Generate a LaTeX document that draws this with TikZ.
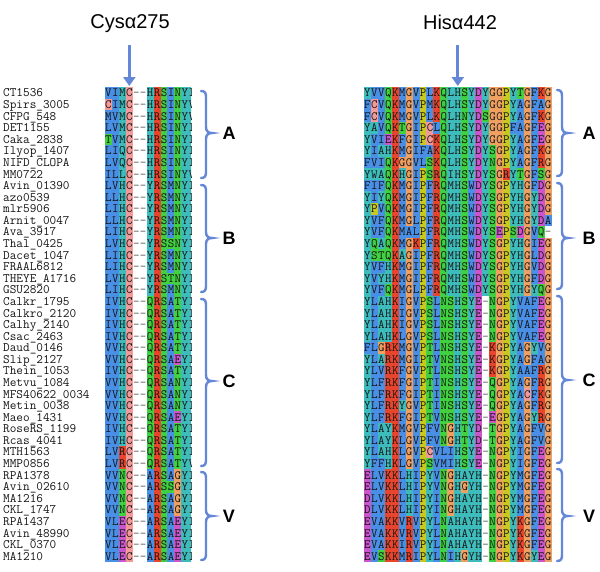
\documentclass[tikz,border=0pt]{standalone}
\usepackage{fontspec}
\newfontfamily\labfont{Liberation Sans}
\usetikzlibrary{arrows.meta}
\definecolor{cB}{HTML}{4A8FE6}
\definecolor{cT}{HTML}{3EBBBB}
\definecolor{cR}{HTML}{E8452C}
\definecolor{cG}{HTML}{40D040}
\definecolor{cM}{HTML}{CC55CC}
\definecolor{cO}{HTML}{F0A060}
\definecolor{cY}{HTML}{C8C820}
\definecolor{cP}{HTML}{F29A9A}
\definecolor{brc}{HTML}{6487D7}
\definecolor{txt}{HTML}{151515}
\definecolor{gapc}{HTML}{555555}
\tikzset{
  seqch/.style={font=\ttfamily\fontsize{12.6}{13}\selectfont, inner sep=0pt, anchor=base, text=txt},
  seqname/.style={font=\ttfamily\fontsize{12.9}{13}\selectfont, inner sep=0pt, anchor=base west, text=txt},
  grplab/.style={font=\labfont\bfseries\fontsize{18}{18}\selectfont, inner sep=0pt, text=black},
  title/.style={font=\labfont\fontsize{20}{20}\selectfont, inner sep=0pt, text=black},
  brcline/.style={draw=brc, line width=2.4pt, line cap=round},
  arr/.style={draw=brc, line width=3.2pt, -{Triangle[width=12pt,length=9pt]}}
}
\makeatletter
\def\defres#1#2{\expandafter\def\csname cl@#1\endcsname{#2}\expandafter\def\csname tx@#1\endcsname{#1}}
\def\deflow#1#2#3{\expandafter\def\csname cl@#1\endcsname{#3}\expandafter\def\csname tx@#1\endcsname{#2}}
\defres{A}{cB}\defres{C}{cP}\defres{D}{cM}\defres{E}{cM}
\defres{F}{cB}\defres{I}{cB}\defres{L}{cB}\defres{M}{cB}\defres{V}{cB}\defres{W}{cB}
\defres{G}{cO}\defres{H}{cT}\defres{Y}{cT}\defres{K}{cR}\defres{R}{cR}
\defres{N}{cG}\defres{Q}{cG}\defres{S}{cG}\defres{T}{cG}\defres{P}{cY}
\deflow{a}{A}{cT}\deflow{i}{I}{cT}\deflow{l}{L}{cT}\deflow{m}{M}{cT}
\deflow{q}{Q}{cT}\deflow{v}{V}{cT}\deflow{w}{W}{cT}
\newcount\sr@n
\def\sr@dash{-}
\newcommand\seqrow[4]{%
  \global\sr@n=0
  \pgfmathsetmacro\sr@y{87.3+(#3-0.5)*11.58}%
  \@tfor\sr@c:=#4\do{%
    \global\advance\sr@n by 1
    \pgfmathsetmacro\sr@x{#2+(\the\sr@n-0.5)*6.95}%
    \edef\sr@name{#1r#3c\the\sr@n}%
    \ifx\sr@c\sr@dash
      \node[seqch, text=gapc] (\sr@name) at (\sr@x,\sr@y+3.9) {-};%
    \else
      \fill[\csname cl@\sr@c\endcsname] (\sr@x-3.55,\sr@y-5.85) rectangle (\sr@x+3.55,\sr@y+5.85);%
      \node[seqch] (\sr@name) at (\sr@x,\sr@y+3.9) {\csname tx@\sr@c\endcsname};%
    \fi
  }}
\newcommand\seqname[2]{%
  \pgfmathsetmacro\sr@y{87.3+(#1-0.5)*11.58}%
  \node[seqname] (nm#1) at (3,\sr@y+3.9) {#2};}
\newcommand\brc[4]{% x, y1, ym, y2
  \draw[brcline] (#1-5,#2) .. controls (#1-1,#2) and (#1,#2+2) .. (#1,#2+6) -- (#1,#3-6)
    .. controls (#1,#3-2) and (#1+2,#3) .. (#1+6,#3)
    .. controls (#1+2,#3) and (#1,#3+2) .. (#1,#3+6) -- (#1,#4-6)
    .. controls (#1,#4-2) and (#1-1,#4) .. (#1-5,#4);}
\makeatother
\begin{document}
\begin{tikzpicture}[x=1pt,y=-1pt]
\useasboundingbox (0,0) rectangle (600,571);
\fill[white] (0,0) rectangle (600,571);
% titles and arrows
\node[title] (tcys) at (130,24) {Cysα275};
\node[title] (this) at (460,22) {Hisα442};
\coordinate (cysA) at (129.3,45);
\coordinate (cysB) at (129.3,86);
\coordinate (hisA) at (457.8,45);
\coordinate (hisB) at (457.8,86);
\draw[arr] (cysA) -- (cysB);
\draw[arr] (hisA) -- (hisB);
% names
\seqname{1}{CT1536}
\seqname{2}{Spirs\_3005}
\seqname{3}{CFPG\_548}
\seqname{4}{DET1155}
\seqname{5}{Caka\_2838}
\seqname{6}{Ilyop\_1407}
\seqname{7}{NIFD\_CLOPA}
\seqname{8}{MM0722}
\seqname{9}{Avin\_01390}
\seqname{10}{azo0539}
\seqname{11}{mlr5906}
\seqname{12}{Arnit\_0047}
\seqname{13}{Ava\_3917}
\seqname{14}{Thal\_0425}
\seqname{15}{Dacet\_1047}
\seqname{16}{FRAAL6812}
\seqname{17}{THEYE\_A1716}
\seqname{18}{GSU2820}
\seqname{19}{Calkr\_1795}
\seqname{20}{Calkro\_2120}
\seqname{21}{Calhy\_2140}
\seqname{22}{Csac\_2463}
\seqname{23}{Daud\_0146}
\seqname{24}{Slip\_2127}
\seqname{25}{Thein\_1053}
\seqname{26}{Metvu\_1084}
\seqname{27}{MFS40622\_0034}
\seqname{28}{Metin\_0038}
\seqname{29}{Maeo\_1431}
\seqname{30}{RoseRS\_1199}
\seqname{31}{Rcas\_4041}
\seqname{32}{MTH1563}
\seqname{33}{MMP0856}
\seqname{34}{RPA1378}
\seqname{35}{Avin\_02610}
\seqname{36}{MA1216}
\seqname{37}{CKL\_1747}
\seqname{38}{RPA1437}
\seqname{39}{Avin\_48990}
\seqname{40}{CKL\_0370}
\seqname{41}{MA1210}
% left block
\begin{scope}
\clip (104,80) rectangle (191,570);
\seqrow{L}{105}{1}{VImC--HRSINYi}
\seqrow{L}{105}{2}{CImC--HRSINYv}
\seqrow{L}{105}{3}{MVmC--HRSINYv}
\seqrow{L}{105}{4}{LVmC--HRSINYi}
\seqrow{L}{105}{5}{TVmC--HRSINYi}
\seqrow{L}{105}{6}{LIqC--HRSINYi}
\seqrow{L}{105}{7}{LVqC--HRSINYi}
\seqrow{L}{105}{8}{ILlC--HRSINYv}
\seqrow{L}{105}{9}{LVHC--YRSMNYi}
\seqrow{L}{105}{10}{LLHC--YRSMNYi}
\seqrow{L}{105}{11}{LIHC--YRSMNYi}
\seqrow{L}{105}{12}{LLHC--YRSMNYi}
\seqrow{L}{105}{13}{LIHC--YRSMNYi}
\seqrow{L}{105}{14}{LVHC--YRSSNYi}
\seqrow{L}{105}{15}{LIHC--YRSMNYi}
\seqrow{L}{105}{16}{LIHC--YRSMNYi}
\seqrow{L}{105}{17}{LVHC--YRSTNYi}
\seqrow{L}{105}{18}{LIHC--YRSMNYi}
\seqrow{L}{105}{19}{IVHC--QRSATYi}
\seqrow{L}{105}{20}{IVHC--QRSATYi}
\seqrow{L}{105}{21}{IVHC--QRSATYi}
\seqrow{L}{105}{22}{IVHC--QRSATYi}
\seqrow{L}{105}{23}{VVHC--QRSATYi}
\seqrow{L}{105}{24}{VVHC--QRSAEYi}
\seqrow{L}{105}{25}{IVHC--QRSATYi}
\seqrow{L}{105}{26}{VVHC--QRSANYi}
\seqrow{L}{105}{27}{VVHC--QRSANYi}
\seqrow{L}{105}{28}{VVHC--QRSANYi}
\seqrow{L}{105}{29}{VVHC--QRSAEYi}
\seqrow{L}{105}{30}{IVHC--QRSATYi}
\seqrow{L}{105}{31}{IVHC--QRSATYi}
\seqrow{L}{105}{32}{LVRC--QRSATYi}
\seqrow{L}{105}{33}{LVRC--QRSATYv}
\seqrow{L}{105}{34}{VVNC--ARSAGYi}
\seqrow{L}{105}{35}{VVNC--ARSSGYi}
\seqrow{L}{105}{36}{VVNC--ARSAGYi}
\seqrow{L}{105}{37}{VVNC--ARSAGYi}
\seqrow{L}{105}{38}{VLEC--ARSAEYi}
\seqrow{L}{105}{39}{VLEC--ARSAEYi}
\seqrow{L}{105}{40}{VLEC--ARSAEYi}
\seqrow{L}{105}{41}{VLEC--ARSAEYi}
\end{scope}
% right block
\seqrow{R}{364}{1}{YVVQKMGVPLKQlHSYDYGGPYTGFKG}
\seqrow{R}{364}{2}{FCVQKMGVPMKQlHSYDYGGPYAGFAG}
\seqrow{R}{364}{3}{FCVQKMGVPLKQlHNYDSGGPYAGFKG}
\seqrow{R}{364}{4}{YaVQKTGIPCLQlHSYDYGGPFAGFEG}
\seqrow{R}{364}{5}{YVIEKFGIPCKQlHSYDYGGPYAGFEG}
\seqrow{R}{364}{6}{YIaHKMGIFAKQlHSYDYSGPYAGFKG}
\seqrow{R}{364}{7}{FVIQKGGVLSKQlHSYDYNGPYAGFRG}
\seqrow{R}{364}{8}{YwaQKHGIPSRQiHSYDYSGRYTGFSG}
\seqrow{R}{364}{9}{FIFQKMGIPFRQmHSWDYSGPYHGFDG}
\seqrow{R}{364}{10}{YIYQKMGIPFRQmHSWDYSGPYHGYDG}
\seqrow{R}{364}{11}{YPVQKMGIPFRQmHSWDYSGPYHGYDG}
\seqrow{R}{364}{12}{YVFQKMGLPFRQmHSWDYSGPYHGYDA}
\seqrow{R}{364}{13}{YVFQKMALPFRQmHSWDYSEPSDGVQ-}
\seqrow{R}{364}{14}{YQaQKMGKPFRQmHSWDYSGPYHGIEG}
\seqrow{R}{364}{15}{YSTQKaGIPFRQmHSWDYSGPYHGLDG}
\seqrow{R}{364}{16}{YVFHKMGIPFRQmHSWDYSGPYHGVDG}
\seqrow{R}{364}{17}{YVYHKMGIPFRQmHSWDYSGPYHGFDG}
\seqrow{R}{364}{18}{YVFQKMGLPFRQmHSWDYSGPYHGYQG}
\seqrow{R}{364}{19}{YLaHKIGVPSLNSHSYE-NGPYVAFEG}
\seqrow{R}{364}{20}{YLaHKIGVPSLNSHSYE-NGPYVAFEG}
\seqrow{R}{364}{21}{YLaHKIGVPSLNSHSYE-NGPYVAFEG}
\seqrow{R}{364}{22}{YLaHKLGVPSLNSHSYE-NGPYVAFEG}
\seqrow{R}{364}{23}{FLGRKMGVPTLNSHSYE-KGPYAGYVG}
\seqrow{R}{364}{24}{YLaRKMGIPTVNSHSYE-KGPYAGFAG}
\seqrow{R}{364}{25}{YLVRKFGVPTLNSHSYE-KGPYAAFRG}
\seqrow{R}{364}{26}{YLFRKFGIPTINSHSYE-QGPYAGFRG}
\seqrow{R}{364}{27}{YLFRKFGIPTINSHSYE-QGPYACFKG}
\seqrow{R}{364}{28}{YLFRKYGVPTINSHSYE-QGPYAGFRG}
\seqrow{R}{364}{29}{YLFRKFGIPTVNSHSYE-EGPYAGYRG}
\seqrow{R}{364}{30}{YLaYKMGVPFVNGHTYD-TGPYAGFVG}
\seqrow{R}{364}{31}{YLaYKLGVPFVNGHTYD-TGPYAGFVG}
\seqrow{R}{364}{32}{YLaHKLGVPCVLIHSYE-NGPYIGFEG}
\seqrow{R}{364}{33}{YFFHKLGVPSVMIHSYE-NGPYIGFEG}
\seqrow{R}{364}{34}{ELVKKLHIPYVNGHaYH-NGPYMGFEG}
\seqrow{R}{364}{35}{ELVKKLHIPYVNGHGYH-NGPYMGFEG}
\seqrow{R}{364}{36}{DLVKKLHIPYINGHaYH-NGPYMGFEG}
\seqrow{R}{364}{37}{DLVKKLHIPYINGHaYH-NGPYMGFEG}
\seqrow{R}{364}{38}{EVAKKVRVPYLNaHaYH-NGPYKGFEG}
\seqrow{R}{364}{39}{EVAKKVRVPYLNaHaYH-NGPYKGFEG}
\seqrow{R}{364}{40}{EVAKKIRVPYLNaHaYH-NGPYKGFEG}
\seqrow{R}{364}{41}{EVSKKMRIPYLNIHGYH-NGPYKGYEG}
% braces
\brc{206}{91}{133}{178}
\brc{206}{185}{238}{292}
\brc{206}{299}{381}{466}
\brc{206}{472}{516}{560}
\brc{562}{90}{133}{176}
\brc{562}{183}{238}{289}
\brc{562}{296}{380}{463}
\brc{562}{469}{516}{561}
% group labels
\node[grplab] (lA) at (229,133) {A};
\node[grplab] (lB) at (229,238) {B};
\node[grplab] (lC) at (229,381) {C};
\node[grplab] (lV) at (229,516) {V};
\node[grplab] (rA) at (589,133) {A};
\node[grplab] (rB) at (589,238) {B};
\node[grplab] (rC) at (589,380) {C};
\node[grplab] (rV) at (589,516) {V};
\end{tikzpicture}
\end{document}
